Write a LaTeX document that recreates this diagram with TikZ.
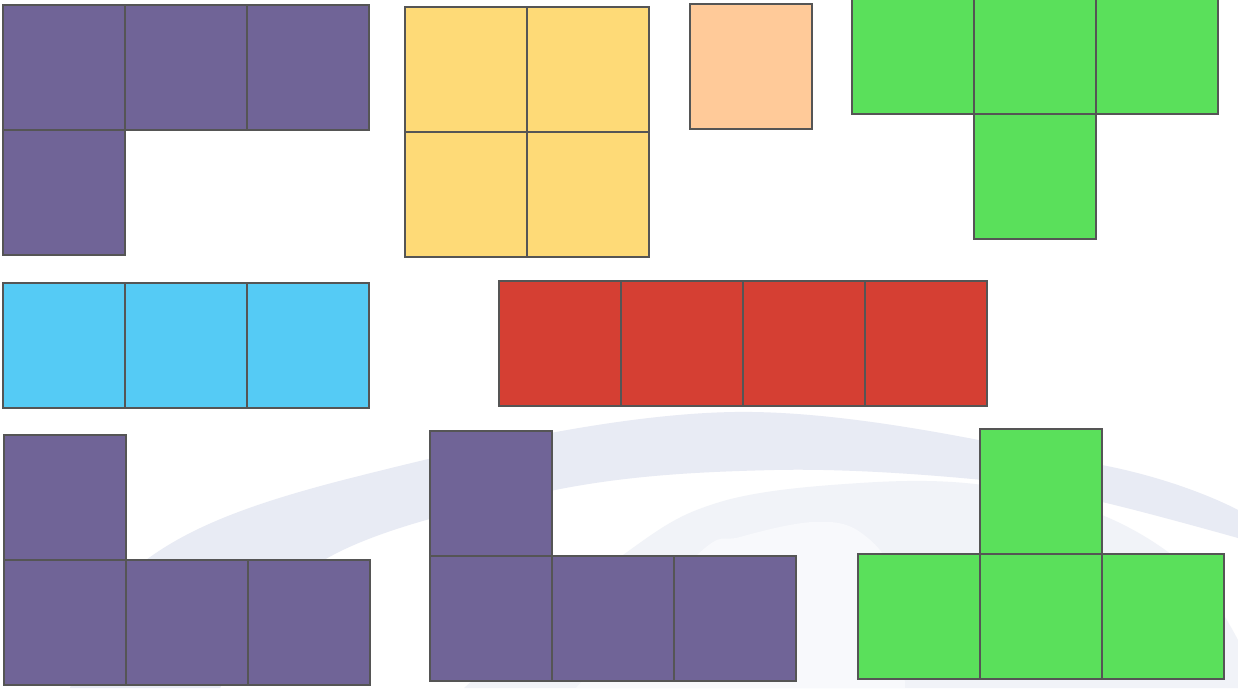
\documentclass[tikz,border=0pt]{standalone}
\usepackage{tikz}
\usetikzlibrary{positioning}
\definecolor{edgegray}{RGB}{85, 85, 85}
\definecolor{tilepurple}{RGB}{112, 100, 151}
\definecolor{tileyellow}{RGB}{254, 218, 119}
\definecolor{tileorange}{RGB}{255, 202, 153}
\definecolor{tilegreen}{RGB}{90, 224, 91}
\definecolor{tilecyan}{RGB}{85, 203, 245}
\definecolor{tilered}{RGB}{213, 63, 51}
\definecolor{markA}{RGB}{232, 235, 244}
\definecolor{markB}{RGB}{241, 243, 248}
\definecolor{markC}{RGB}{248, 249, 252}

\begin{document}
\begin{tikzpicture}[
  cell/.style={
    draw=edgegray, line width=1.1pt,
    minimum width=2.44cm, minimum height=2.5cm,
    inner sep=0pt, outer sep=0pt
  },
  purplecell/.style={cell, fill=tilepurple},
  yellowcell/.style={cell, fill=tileyellow},
  orangecell/.style={cell, fill=tileorange},
  greencell/.style={cell, fill=tilegreen},
  cyancell/.style={cell, fill=tilecyan},
  redcell/.style={cell, fill=tilered}
]

  % Cornice e filigrana di sfondo
  \useasboundingbox (0,0) rectangle (24.76,-13.76);
  \fill[white] (0,0) rectangle (24.76,-13.76);
  \fill[markA] plot[smooth, tension=0.6] coordinates {(1.40,-13.76) (2.92,-11.20) (7.10,-9.54) (14.68,-8.24) (22.04,-9.30) (24.76,-10.20)}
    -- (24.76,-10.76)
    -- plot[smooth, tension=0.6] coordinates {(24.76,-10.76) (22.04,-10.04) (19.66,-9.60) (15.48,-9.40) (11.10,-9.80) (6.48,-11.20) (4.40,-13.76)}
    -- cycle;
  \fill[markB] plot[smooth, tension=0.6] coordinates {(9.28,-13.76) (12.46,-11.10) (14.40,-10.04) (17.20,-9.66) (19.66,-9.70) (22.04,-10.30) (23.80,-11.40) (24.76,-12.80)}
    -- (24.76,-13.76) -- cycle;
  \fill[markC] plot[smooth, tension=0.6] coordinates {(11.52,-13.76) (13.94,-11.10) (14.80,-10.74) (16.26,-10.44) (17.20,-10.64) (17.90,-11.60) (18.10,-13.76)}
    -- cycle;

  % Prima riga
  \node[purplecell, anchor=north west] (pl1) at (0.06,-0.10) {};
  \node[purplecell, right=0pt of pl1] (pl2) {};
  \node[purplecell, right=0pt of pl2] (pl3) {};
  \node[purplecell, below=0pt of pl1] (pl4) {};

  \node[yellowcell, anchor=north west] (sq1) at (8.10,-0.14) {};
  \node[yellowcell, right=0pt of sq1] (sq2) {};
  \node[yellowcell, below=0pt of sq1] (sq3) {};
  \node[yellowcell, below=0pt of sq2] (sq4) {};

  \node[orangecell, anchor=north west] (one) at (13.80,-0.08) {};

  \node[greencell, anchor=north west] (tt1) at (17.04,0.22) {};
  \node[greencell, right=0pt of tt1] (tt2) {};
  \node[greencell, right=0pt of tt2] (tt3) {};
  \node[greencell, below=0pt of tt2] (tt4) {};

  % Seconda riga
  \node[cyancell, anchor=north west] (cy1) at (0.06,-5.66) {};
  \node[cyancell, right=0pt of cy1] (cy2) {};
  \node[cyancell, right=0pt of cy2] (cy3) {};

  \node[redcell, anchor=north west] (rd1) at (9.98,-5.62) {};
  \node[redcell, right=0pt of rd1] (rd2) {};
  \node[redcell, right=0pt of rd2] (rd3) {};
  \node[redcell, right=0pt of rd3] (rd4) {};

  % Terza riga
  \node[purplecell, anchor=north west] (ja1) at (0.08,-8.70) {};
  \node[purplecell, below=0pt of ja1] (ja2) {};
  \node[purplecell, right=0pt of ja2] (ja3) {};
  \node[purplecell, right=0pt of ja3] (ja4) {};

  \node[purplecell, anchor=north west] (jb1) at (8.60,-8.62) {};
  \node[purplecell, below=0pt of jb1] (jb2) {};
  \node[purplecell, right=0pt of jb2] (jb3) {};
  \node[purplecell, right=0pt of jb3] (jb4) {};

  \node[greencell, anchor=north west] (tu1) at (19.60,-8.58) {};
  \node[greencell, below=0pt of tu1] (tu2) {};
  \node[greencell, left=0pt of tu2] (tu3) {};
  \node[greencell, right=0pt of tu2] (tu4) {};

\end{tikzpicture}
\end{document}
